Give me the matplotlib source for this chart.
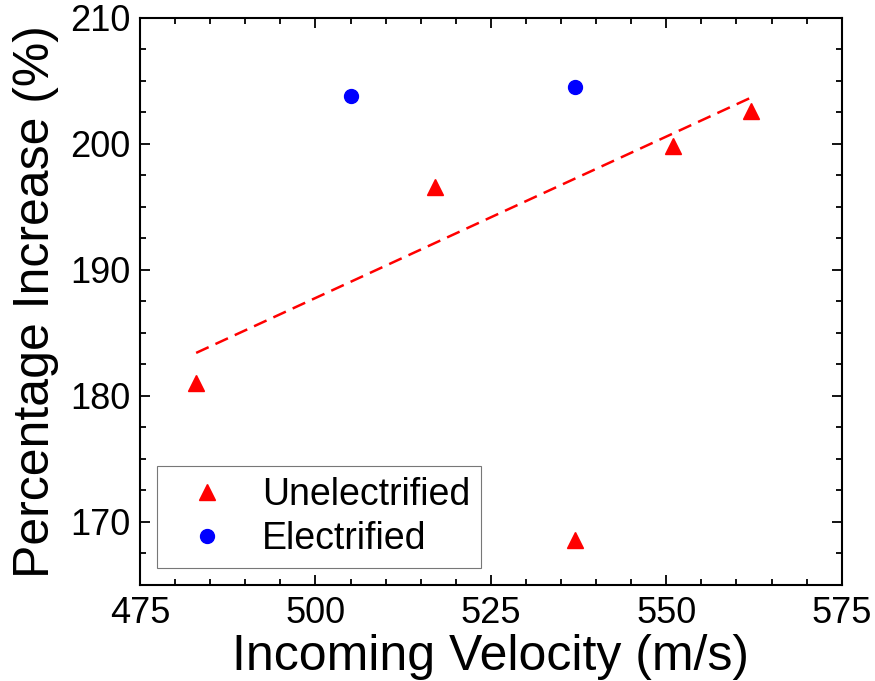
import matplotlib
matplotlib.use("Agg")
import matplotlib.pyplot as plt
import numpy as np
from matplotlib.ticker import MultipleLocator

plt.rcParams["font.family"] = ["Liberation Sans", "DejaVu Sans"]

# Unelectrified runs
unelec_velocity = [483, 517, 537, 551, 562]
unelec_increase = [181.0, 196.6, 168.6, 199.8, 202.6]

# Electrified runs
elec_velocity = [505, 537]
elec_increase = [203.8, 204.5]

# trend line fitted through unelectrified points, outlier at 537 left out
fit_mask = [True, True, False, True, True]

fig = plt.figure(figsize=(8.75, 6.81), dpi=100)
ax = fig.add_axes([0.16, 0.141, 0.802, 0.833])

fx = np.array(unelec_velocity)[fit_mask]
fy = np.array(unelec_increase)[fit_mask]
slope, intercept = np.polyfit(fx, fy, 1)
xs = np.array([fx.min(), fx.max()])
ax.plot(xs, slope * xs + intercept, color="red", linewidth=1.8,
        dashes=(5.5, 3))

ax.plot(unelec_velocity, unelec_increase, linestyle="none", marker="^",
        markersize=11, color="red", label="Unelectrified")
ax.plot(elec_velocity, elec_increase, linestyle="none", marker="o",
        markersize=10, color="blue", label="Electrified")

ax.set_xlim(475, 575)
ax.set_ylim(165, 210)
ax.xaxis.set_major_locator(MultipleLocator(25))
ax.xaxis.set_minor_locator(MultipleLocator(5))
ax.yaxis.set_major_locator(MultipleLocator(10))
ax.yaxis.set_minor_locator(MultipleLocator(2.5))
ax.tick_params(which="both", direction="in", top=True, right=True,
               width=1.3, labelsize=26)
ax.tick_params(which="major", length=7)
ax.tick_params(which="minor", length=4)
ax.tick_params(axis="x", pad=8)
ax.tick_params(axis="y", pad=7)
for sp in ax.spines.values():
    sp.set_linewidth(1.5)

ax.set_xlabel("Incoming Velocity (m/s)", fontsize=36, labelpad=2)
ax.set_ylabel("Percentage Increase (%)", fontsize=36, labelpad=8)

leg = ax.legend(loc="lower left", fontsize=27, frameon=True, fancybox=False,
                edgecolor="#555555", handletextpad=0.4, borderpad=0.3,
                labelspacing=0.2, handlelength=2.1, borderaxespad=0,
                bbox_to_anchor=(0.024, 0.03))
leg.get_frame().set_linewidth(0.8)

fig.savefig("out.png", dpi=100)
